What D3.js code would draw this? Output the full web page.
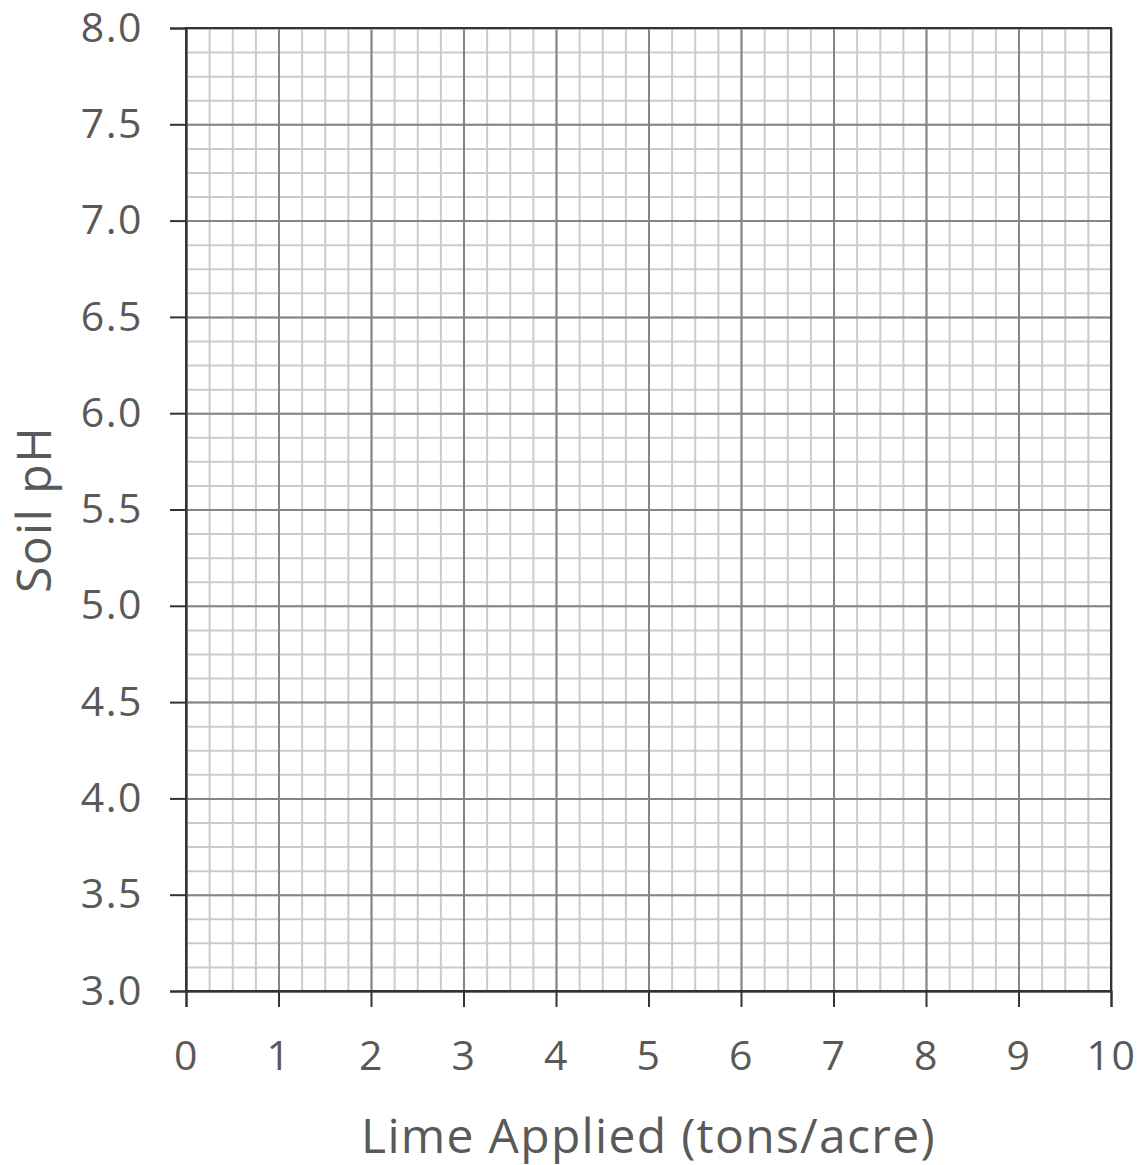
<!DOCTYPE html>
<html>
<head>
<meta charset="utf-8">
<script src="https://cdn.jsdelivr.net/npm/d3@7"></script>
<style>
  body { margin: 0; background: #fff; }
  svg text { font-family: "Open Sans", "Noto Sans", sans-serif; fill: #595959; }
</style>
</head>
<body>
<svg id="chart" width="1146" height="1165"></svg>
<script>
// Data
const xDomain = [0, 10];
const yDomain = [3, 8];
const xTicks = [0, 1, 2, 3, 4, 5, 6, 7, 8, 9, 10];
const yTicks = [3.0, 3.5, 4.0, 4.5, 5.0, 5.5, 6.0, 6.5, 7.0, 7.5, 8.0];
const xMinorStep = 0.25;
const yMinorStep = 0.125;
const xTitle = "Lime Applied (tons/acre)";
const yTitle = "Soil pH";

// Layout
const MARGIN = { top: 28, right: 35, bottom: 174, left: 186 };
const W = 1146, H = 1165;
const innerW = W - MARGIN.left - MARGIN.right;
const innerH = H - MARGIN.top - MARGIN.bottom;

const svg = d3.select("#chart");
const g = svg.append("g").attr("transform", `translate(${MARGIN.left},${MARGIN.top})`);

const x = d3.scaleLinear().domain(xDomain).range([0, innerW]);
const y = d3.scaleLinear().domain(yDomain).range([innerH, 0]);

const xMinor = d3.range(xDomain[0], xDomain[1] + 1e-9, xMinorStep);
const yMinor = d3.range(yDomain[0], yDomain[1] + 1e-9, yMinorStep);

// minor grid
g.append("g")
  .call(d3.axisBottom(x).tickValues(xMinor).tickSize(innerH).tickFormat(""))
  .call((s) => s.select(".domain").remove())
  .selectAll("line").attr("stroke", "#cbcbcb").attr("stroke-width", 2);

g.append("g")
  .call(d3.axisLeft(y).tickValues(yMinor).tickSize(-innerW).tickFormat(""))
  .call((s) => s.select(".domain").remove())
  .selectAll("line").attr("stroke", "#cbcbcb").attr("stroke-width", 2);

// major grid
g.append("g")
  .call(d3.axisBottom(x).tickValues(xTicks).tickSize(innerH).tickFormat(""))
  .call((s) => s.select(".domain").remove())
  .selectAll("line").attr("stroke", "#858585").attr("stroke-width", 2);

g.append("g")
  .call(d3.axisLeft(y).tickValues(yTicks).tickSize(-innerW).tickFormat(""))
  .call((s) => s.select(".domain").remove())
  .selectAll("line").attr("stroke", "#858585").attr("stroke-width", 2);

// frame
g.append("rect")
  .attr("width", innerW).attr("height", innerH)
  .attr("fill", "none").attr("stroke", "#333").attr("stroke-width", 2);

// axes
const xAxis = g.append("g")
  .attr("transform", `translate(0,${innerH})`)
  .call(d3.axisBottom(x).tickValues(xTicks).tickSize(16).tickPadding(34).tickFormat(d3.format("d")));
const yAxis = g.append("g")
  .call(d3.axisLeft(y).tickValues(yTicks).tickSize(16).tickPadding(27).tickFormat(d3.format(".1f")));

[xAxis, yAxis].forEach((a) => {
  a.select(".domain").attr("stroke", "#333").attr("stroke-width", 2);
  a.selectAll(".tick line").attr("stroke", "#333").attr("stroke-width", 2);
  a.selectAll(".tick text")
    .attr("fill", "#595959")
    .style("font-size", "41px")
    .style("letter-spacing", "1.5px")
    .style("font-family", '"Open Sans", "Noto Sans", sans-serif');
});

// titles
svg.append("text")
  .attr("x", MARGIN.left + innerW / 2)
  .attr("y", 1153)
  .attr("text-anchor", "middle")
  .style("font-size", "48px")
  .style("letter-spacing", "1.3px")
  .text(xTitle);

svg.append("text")
  .attr("transform", `translate(51,${MARGIN.top + innerH / 2}) rotate(-90)`)
  .attr("text-anchor", "middle")
  .style("font-size", "48px")
  .style("letter-spacing", "1.5px")
  .text(yTitle);
</script>
</body>
</html>
